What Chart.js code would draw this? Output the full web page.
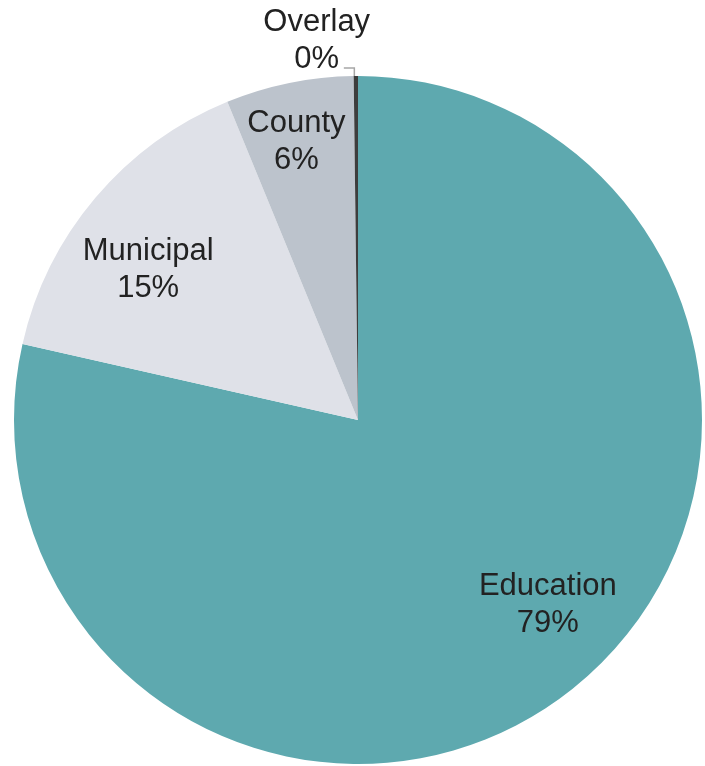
<!DOCTYPE html>
<html>
<head>
<meta charset="utf-8">
<script src="https://cdn.jsdelivr.net/npm/chart.js@4.4.1/dist/chart.umd.min.js"></script>
<style>
  html, body { margin: 0; padding: 0; background: #fff; }
  #wrap { width: 705px; height: 766px; position: relative; }
</style>
</head>
<body>
<div id="wrap"><canvas id="pie" width="705" height="766"></canvas></div>
<script>
// funding share by source
const categories = ['Education', 'Municipal', 'County', 'Overlay'];
const shares = [78.55, 15.25, 6.0, 0.2];
const sliceColors = ['#5ea9af', '#dfe1e8', '#bcc3cc', '#3d3d3d'];

// label anchor offsets, as fractions of the pie radius from its centre
const labelOffsets = [
    [0.552, 0.538],
    [-0.610, -0.435],
    [-0.179, -0.808],
    [-0.120, -1.103]
];

const total = shares.reduce((a, b) => a + b, 0);

const sliceLabels = {
    id: 'sliceLabels',
    afterDatasetsDraw(chart) {
        const ctx = chart.ctx;
        const arcs = chart.getDatasetMeta(0).data;
        ctx.save();
        ctx.font = '31px "Liberation Sans", Arial, sans-serif';
        ctx.fillStyle = '#222';
        ctx.textAlign = 'center';
        ctx.textBaseline = 'middle';
        const lineH = 37;
        arcs.forEach((arc, i) => {
            const r = arc.outerRadius;
            const x = arc.x + labelOffsets[i][0] * r;
            const y = arc.y + labelOffsets[i][1] * r;
            const pct = Math.round(shares[i] / total * 100) + '%';
            ctx.fillText(categories[i], x, y - lineH / 2);
            ctx.fillText(pct, x, y + lineH / 2);

            // leader line for the tiny slice
            if (i === 3) {
                const mid = (arc.startAngle + arc.endAngle) / 2;
                const ex = arc.x + Math.cos(mid) * r;
                const ey = arc.y + Math.sin(mid) * r;
                ctx.strokeStyle = '#a6a6a6';
                ctx.lineWidth = 1.5;
                ctx.beginPath();
                ctx.moveTo(ex - 12, ey - 8);
                ctx.lineTo(ex - 1.5, ey - 8);
                ctx.lineTo(ex - 1.5, ey);
                ctx.stroke();
            }
        });
        ctx.restore();
    }
};

new Chart(document.getElementById('pie').getContext('2d'), {
    type: 'pie',
    data: {
        labels: categories,
        datasets: [{
            data: shares,
            backgroundColor: sliceColors,
            borderWidth: 0
        }]
    },
    options: {
        responsive: false,
        animation: false,
        layout: { padding: { left: 14, right: 3, top: 76, bottom: 2 } },
        plugins: {
            legend: { display: false },
            tooltip: { enabled: false }
        }
    },
    plugins: [sliceLabels]
});
</script>
</body>
</html>
